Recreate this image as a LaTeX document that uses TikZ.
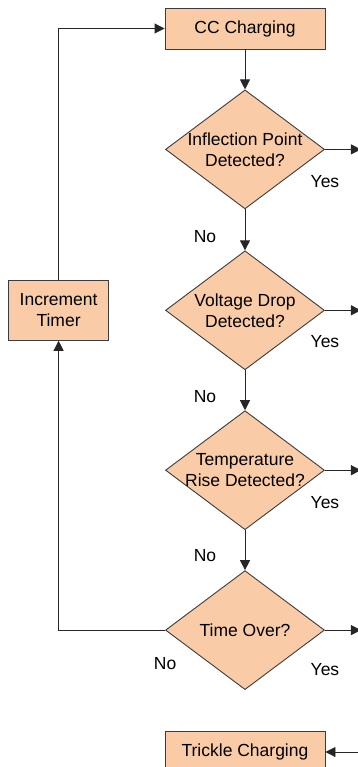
\documentclass[tikz,border=0pt]{standalone}
\usepackage{fontspec}
\setmainfont{Liberation Sans}
\usetikzlibrary{positioning,shapes.geometric,arrows.meta}
\definecolor{peach}{RGB}{249,204,167}
\definecolor{edge}{RGB}{60,60,60}

\begin{document}
\begin{tikzpicture}[font=\fontsize{17.5}{21}\selectfont,
  box/.style={rectangle, draw=edge, fill=peach, line width=0.9pt, align=center, minimum height=#1},
  box/.default=41pt,
  decision/.style={diamond, draw=edge, fill=peach, line width=0.9pt, align=center, shape aspect=1.336, inner sep=-3pt, minimum width=159pt, minimum height=119pt},
  arr/.style={draw=black!85, line width=0.9pt, -{Triangle[length=10pt,width=10pt]}},
  lbl/.style={inner sep=0pt}]
  \useasboundingbox (0,0) rectangle (358pt,-767pt);
  \node[box, minimum width=160pt] (cc) at (245pt,-28.5pt) {CC Charging};
  \node[decision, below=40pt of cc] (inflect) {Inflection Point\\Detected?};
  \node[decision, below=41pt of inflect] (vdrop) {Voltage Drop\\Detected?};
  \node[decision, below=40pt of vdrop] (trise) {Temperature\\Rise Detected?};
  \node[decision, below=40pt of trise] (timeover) {Time Over?};
  \node[box=60pt, minimum width=100pt, left=56pt of vdrop] (timer) {Increment\\Timer};
  \node[box, minimum width=160pt, below=41pt of timeover] (trickle) {Trickle Charging};

  \node[lbl] (yes1) at ([yshift=-32.5pt]inflect.east) {Yes};
  \node[lbl] (yes2) at ([yshift=-31.5pt]vdrop.east) {Yes};
  \node[lbl] (yes3) at ([yshift=-32pt]trise.east) {Yes};
  \node[lbl] (yes4) at ([yshift=-39.5pt]timeover.east) {Yes};
  \node[lbl] (no1) at ([xshift=-40pt,yshift=-27pt]inflect.south) {No};
  \node[lbl] (no2) at ([xshift=-40pt,yshift=-26pt]vdrop.south) {No};
  \node[lbl] (no3) at ([xshift=-40pt,yshift=-25pt]trise.south) {No};
  \node[lbl] (no4) at ([yshift=-33.5pt]timeover.west) {No};

  \coordinate (out1) at ([xshift=36pt]inflect.east);
  \coordinate (out2) at ([xshift=36pt]vdrop.east);
  \coordinate (out3) at ([xshift=36pt]trise.east);
  \coordinate (out4) at ([xshift=36pt]timeover.east);
  \coordinate (in5) at ([xshift=36pt]trickle.east);

  \draw[arr] (cc) -- (inflect);
  \draw[arr] (inflect) -- (vdrop);
  \draw[arr] (vdrop) -- (trise);
  \draw[arr] (trise) -- (timeover);
  \draw[arr] (inflect.east) -- (out1);
  \draw[arr] (vdrop.east) -- (out2);
  \draw[arr] (trise.east) -- (out3);
  \draw[arr] (timeover.east) -- (out4);
  \draw[arr] (in5) -- (trickle.east);
  \draw[arr] (timeover.west) -| (timer.south);
  \draw[arr] (timer.north) |- (cc.west);
\end{tikzpicture}
\end{document}
